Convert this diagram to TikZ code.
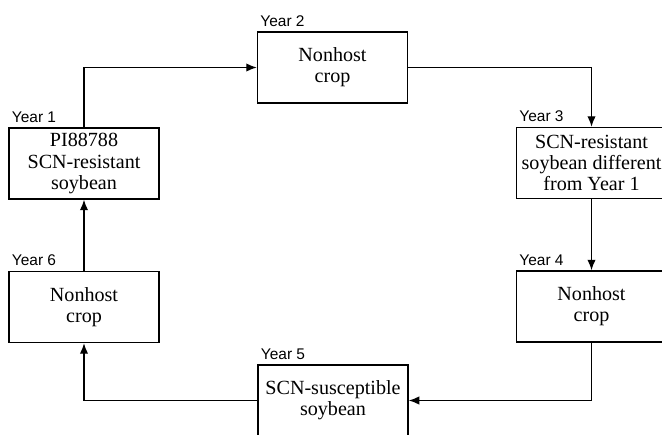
\documentclass[tikz,border=0pt]{standalone}
\usepackage{fontspec}
\setmainfont{Liberation Serif}
\newfontfamily\yearfont{Liberation Sans}
\usetikzlibrary{arrows.meta,positioning}

\begin{document}
\begin{tikzpicture}[
  cropbox/.style={draw,line width=1pt,minimum width=3.75cm,minimum height=1.775cm,
    align=center,inner sep=0pt,font=\fontsize{14.3}{15}\selectfont},
  yearlabel/.style={anchor=south west,inner xsep=2.4pt,inner ysep=3.3pt,
    font=\yearfont\fontsize{11}{13}\selectfont},
  flow/.style={line width=1pt,-{Latex[length=7.5pt,width=6pt]}}]
  \useasboundingbox (0,0) rectangle (16.55,10.85);

  \node[cropbox] (y1) at (2.1, 6.7625) {PI88788\\SCN-resistant\\soybean};
  \node[cropbox] (y2) at (8.3125, 9.1625) {Nonhost\\crop};
  \node[cropbox] (y3) at (14.7875, 6.775) {SCN-resistant\\soybean different\\from Year 1};
  \node[cropbox] (y4) at (14.7875, 3.1875) {Nonhost\\crop};
  \node[cropbox] (y5) at (8.325, 0.8375) {SCN-susceptible\\soybean};
  \node[cropbox] (y6) at (2.1, 3.175) {Nonhost\\crop};

  \node[yearlabel] (l1) at (y1.north west) {Year 1};
  \node[yearlabel] (l2) at (y2.north west) {Year 2};
  \node[yearlabel] (l3) at (y3.north west) {Year 3};
  \node[yearlabel] (l4) at (y4.north west) {Year 4};
  \node[yearlabel] (l5) at (y5.north west) {Year 5};
  \node[yearlabel] (l6) at (y6.north west) {Year 6};

  \begin{scope}[flow]
  \draw (y1.north) |- (y2.west);
  \draw (y2.east) -| (y3.north);
  \draw (y3.south) -- (y4.north);
  \draw (y4.south) |- (y5.east);
  \draw (y5.west) -| (y6.south);
  \draw (y6.north) -- (y1.south);
  \end{scope}
\end{tikzpicture}
\end{document}
